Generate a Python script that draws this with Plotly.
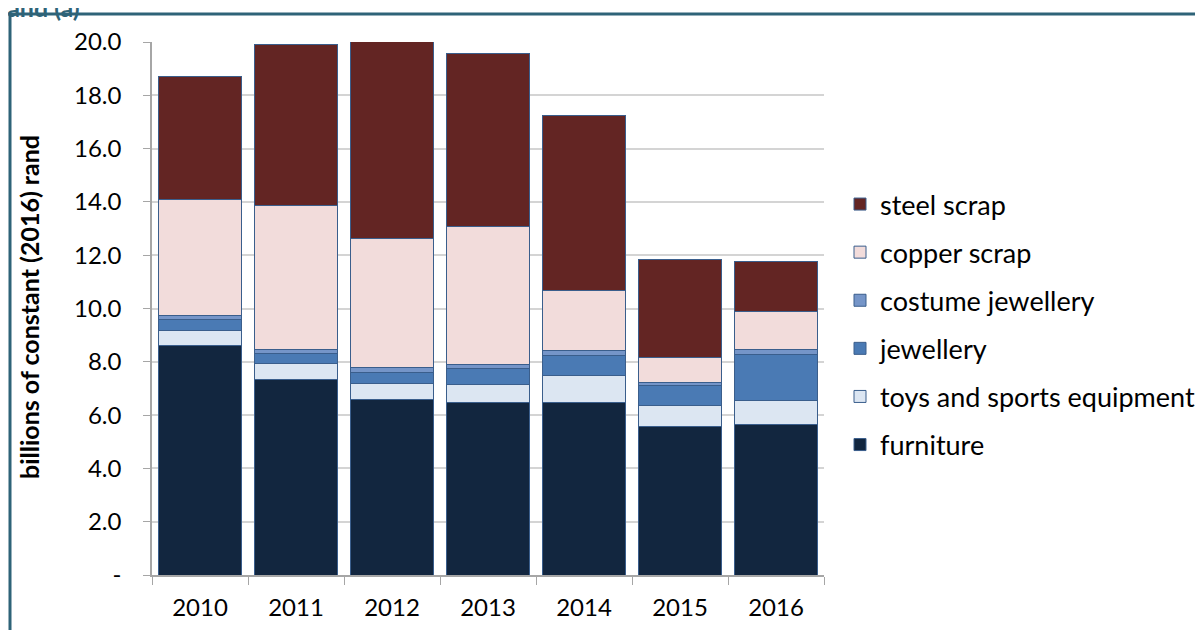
import plotly.graph_objects as go

years = ["2010", "2011", "2012", "2013", "2014", "2015", "2016"]
furniture = [8.60, 7.32, 6.57, 6.47, 6.47, 5.58, 5.63]
toys = [0.59, 0.63, 0.63, 0.68, 1.01, 0.79, 0.91]
jewellery = [0.40, 0.38, 0.41, 0.61, 0.75, 0.73, 1.75]
costume = [0.13, 0.12, 0.17, 0.14, 0.20, 0.12, 0.18]
copper = [4.38, 5.43, 4.85, 5.18, 2.25, 0.93, 1.40]
steel = [4.60, 6.01, 7.40, 6.47, 6.55, 3.68, 1.91]

y_tickvals = [0, 2, 4, 6, 8, 10, 12, 14, 16, 18, 20]
y_ticktext = ["-", "2.0", "4.0", "6.0", "8.0", "10.0", "12.0", "14.0", "16.0", "18.0", "20.0"]

series = [
    ("furniture", furniture, "#12263F"),
    ("toys and sports equipment", toys, "#DCE6F2"),
    ("jewellery", jewellery, "#4A7AB4"),
    ("costume jewellery", costume, "#7595C8"),
    ("copper scrap", copper, "#F2DCDB"),
    ("steel scrap", steel, "#632523"),
]

FONT = "Lato"
W, H = 1203, 630
OFF = 8  # page body margin offset
L, R, T, B = 152 - OFF, 824 - OFF, 42 - OFF, 575 - OFF

fig = go.Figure()
n = len(series)
for i, (name, vals, col) in enumerate(series):
    fig.add_trace(go.Bar(
        x=years, y=vals, name=name, legendgroup=name, legendrank=n - i,
        marker=dict(color=col, line=dict(color="#3A5E8C", width=1)),
    ))

def px_x(p):
    return (p - OFF - L) / (R - L)

def px_y(p):
    return (B - (p - OFF)) / (B - T)

fig.update_layout(
    width=W, height=H,
    margin=dict(l=L, r=W - R, t=T, b=H - B, autoexpand=False),
    barmode="stack", bargap=0.135,
    plot_bgcolor="white", paper_bgcolor="white",
    font=dict(family=FONT, size=24, color="#000000"),
    legend=dict(
        x=px_x(840), y=px_y(180), xanchor="left", yanchor="top",
        traceorder="grouped", tracegroupgap=10,
        font=dict(family=FONT, size=27, color="#000000"),
        bgcolor="rgba(0,0,0,0)",
    ),
    xaxis=dict(
        showline=True, linecolor="#A6A6A6", linewidth=1.5,
        ticks="outside", ticklen=8, tickcolor="#A6A6A6", tickson="boundaries",
        ticklabelstandoff=10,
        tickfont=dict(family=FONT, size=24), showgrid=False,
    ),
    yaxis=dict(
        range=[0, 20], tickvals=y_tickvals, ticktext=y_ticktext,
        showline=True, linecolor="#A6A6A6", linewidth=1.5,
        ticks="outside", ticklen=7, tickcolor="#A6A6A6",
        ticklabelstandoff=17,
        showgrid=True, gridcolor="#D4D4D4", gridwidth=1.5,
        zeroline=False,
        tickfont=dict(family=FONT, size=24),
    ),
    shapes=[dict(
        type="rect", xref="paper", yref="paper",
        x0=px_x(10), x1=px_x(1225), y0=px_y(660), y1=px_y(14),
        line=dict(color="#2E6378", width=3), fillcolor="rgba(0,0,0,0)",
        layer="below",
    )],
    annotations=[
        dict(
            text="<b>rand (a)</b>", xref="paper", yref="paper",
            x=px_x(-4), y=px_y(7), xanchor="left", yanchor="middle",
            showarrow=False, font=dict(family=FONT, size=25, color="#2E6378"),
        ),
        dict(
            text="<b>billions of constant (2016) rand</b>", xref="paper", yref="paper",
            x=px_x(29), y=px_y(307), xanchor="center", yanchor="middle",
            textangle=-90, showarrow=False,
            font=dict(family=FONT, size=25, color="#000000"),
        ),
    ],
)

fig.write_html("out.html")
